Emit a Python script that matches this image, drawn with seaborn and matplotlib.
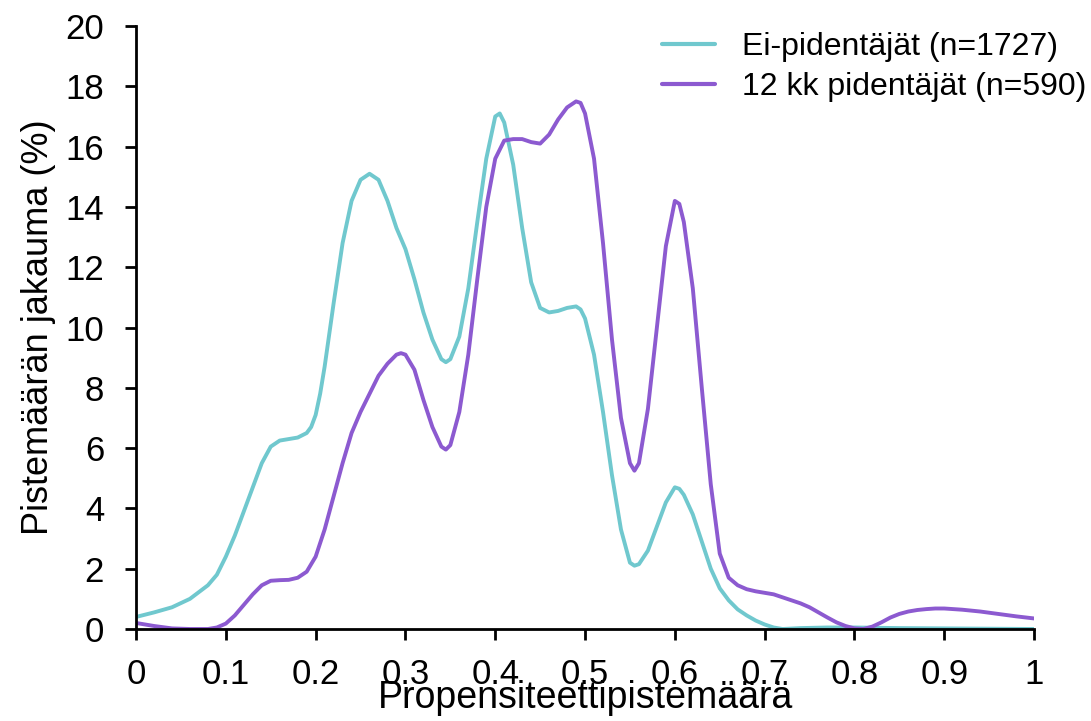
import pandas as pd
import seaborn as sns
import matplotlib.pyplot as plt

# values
x_ei = [0, 0.02, 0.04, 0.06, 0.08, 0.09, 0.1, 0.11, 0.12, 0.13, 0.14, 0.15, 0.16,
        0.17, 0.18, 0.19, 0.195, 0.2, 0.205, 0.21, 0.22, 0.23, 0.24, 0.25, 0.26,
        0.27, 0.28, 0.29, 0.3, 0.31, 0.32, 0.33, 0.34, 0.345, 0.35, 0.36, 0.37,
        0.38, 0.39, 0.4, 0.405, 0.41, 0.42, 0.43, 0.44, 0.45, 0.46, 0.47, 0.48,
        0.49, 0.495, 0.5, 0.51, 0.52, 0.53, 0.54, 0.55, 0.555, 0.56, 0.57, 0.58,
        0.59, 0.6, 0.605, 0.61, 0.62, 0.63, 0.64, 0.65, 0.66, 0.67, 0.68, 0.69,
        0.7, 0.71, 0.72, 0.74, 0.77, 0.8, 0.85, 0.9, 0.95, 1.0]
y_ei = [0.4, 0.55, 0.72, 1.0, 1.45, 1.8, 2.4, 3.1, 3.9, 4.7, 5.5, 6.05, 6.25,
        6.3, 6.35, 6.5, 6.7, 7.1, 7.8, 8.7, 10.8, 12.8, 14.2, 14.9, 15.1,
        14.9, 14.2, 13.3, 12.6, 11.6, 10.5, 9.6, 8.95, 8.85, 8.95, 9.7, 11.3,
        13.5, 15.6, 17.0, 17.1, 16.8, 15.4, 13.3, 11.5, 10.65, 10.5, 10.55, 10.65,
        10.7, 10.6, 10.3, 9.1, 7.2, 5.1, 3.3, 2.2, 2.1, 2.15, 2.6, 3.4,
        4.2, 4.7, 4.65, 4.45, 3.8, 2.9, 2.0, 1.35, 0.95, 0.65, 0.45, 0.28,
        0.15, 0.05, 0.0, 0.03, 0.05, 0.05, 0.03, 0.02, 0.01, 0.0]

x_12 = [0, 0.02, 0.04, 0.06, 0.08, 0.09, 0.1, 0.11, 0.12, 0.13, 0.14, 0.15, 0.16,
        0.17, 0.18, 0.19, 0.2, 0.21, 0.22, 0.23, 0.24, 0.25, 0.26, 0.27, 0.28,
        0.29, 0.295, 0.3, 0.31, 0.32, 0.33, 0.34, 0.345, 0.35, 0.36, 0.37, 0.38,
        0.39, 0.4, 0.41, 0.42, 0.43, 0.44, 0.45, 0.46, 0.47, 0.48, 0.49, 0.495,
        0.5, 0.51, 0.52, 0.53, 0.54, 0.55, 0.555, 0.56, 0.57, 0.58, 0.59, 0.6,
        0.605, 0.61, 0.62, 0.63, 0.64, 0.65, 0.66, 0.67, 0.68, 0.69, 0.7, 0.71,
        0.72, 0.73, 0.74, 0.75, 0.76, 0.77, 0.78, 0.79, 0.8, 0.81, 0.82, 0.83,
        0.84, 0.85, 0.86, 0.87, 0.88, 0.89, 0.9, 0.92, 0.94, 0.96, 0.98, 1.0]
y_12 = [0.2, 0.1, 0.02, 0.0, 0.0, 0.05, 0.18, 0.45, 0.8, 1.15, 1.45, 1.6, 1.62,
        1.63, 1.7, 1.9, 2.4, 3.3, 4.4, 5.5, 6.5, 7.2, 7.8, 8.4, 8.8,
        9.1, 9.15, 9.1, 8.6, 7.6, 6.7, 6.05, 5.95, 6.1, 7.2, 9.1, 11.6,
        14.0, 15.6, 16.2, 16.25, 16.25, 16.15, 16.1, 16.4, 16.9, 17.3, 17.5, 17.45,
        17.1, 15.6, 12.8, 9.6, 7.0, 5.5, 5.25, 5.5, 7.3, 10.0, 12.7, 14.2,
        14.1, 13.5, 11.3, 8.0, 4.8, 2.5, 1.7, 1.45, 1.32, 1.25, 1.2, 1.15,
        1.05, 0.95, 0.85, 0.72, 0.55, 0.38, 0.22, 0.1, 0.02, 0.0, 0.08, 0.22,
        0.38, 0.5, 0.58, 0.63, 0.66, 0.68, 0.68, 0.64, 0.58, 0.5, 0.42, 0.35]

labels = ["Ei-pidentäjät (n=1727)", "12 kk pidentäjät (n=590)"]
colors = ["#70C8CE", "#8C5AD0"]
x_ticks = [0, 0.1, 0.2, 0.3, 0.4, 0.5, 0.6, 0.7, 0.8, 0.9, 1]
x_tick_labels = ["0", "0.1", "0.2", "0.3", "0.4", "0.5", "0.6", "0.7", "0.8", "0.9", "1"]

df = pd.concat([
    pd.DataFrame({"x": x_ei, "y": y_ei, "group": labels[0]}),
    pd.DataFrame({"x": x_12, "y": y_12, "group": labels[1]}),
])

sns.set_style("ticks")
plt.rcParams["font.family"] = ["Liberation Sans", "DejaVu Sans"]
plt.rcParams["text.color"] = "black"
plt.rcParams["axes.labelcolor"] = "black"

fig = plt.figure(figsize=(10.91, 7.21), dpi=100)
ax = fig.add_axes([0.1247, 0.1276, 0.8231, 0.8363])

sns.lineplot(data=df, x="x", y="y", hue="group", palette=colors,
             linewidth=2.8, ax=ax, sort=False, estimator=None)

ax.set_xlim(0, 1)
ax.set_ylim(0, 20)
ax.set_xticks(x_ticks)
ax.set_xticklabels(x_tick_labels)
ax.set_yticks(range(0, 21, 2))
ax.tick_params(axis="both", labelsize=25, width=2, length=8, direction="out", colors="black")
ax.tick_params(axis="y", pad=15)
ax.tick_params(axis="x", pad=13)
for s in ["left", "bottom"]:
    ax.spines[s].set_linewidth(2)
    ax.spines[s].set_color("black")
sns.despine(ax=ax)

ax.set_xlabel("Propensiteettipistemäärä", fontsize=27, labelpad=-8)
ax.set_ylabel("Pistemäärän jakauma (%)", fontsize=26, labelpad=7)

leg = ax.legend(loc="upper right", bbox_to_anchor=(0.996, 0.955), bbox_transform=fig.transFigure,
                frameon=False, fontsize=23, handlelength=1.65, handletextpad=0.85,
                borderaxespad=0, borderpad=0, labelspacing=0.3)
for h in leg.get_lines():
    h.set_linewidth(3)

fig.savefig("out.png", dpi=100)
